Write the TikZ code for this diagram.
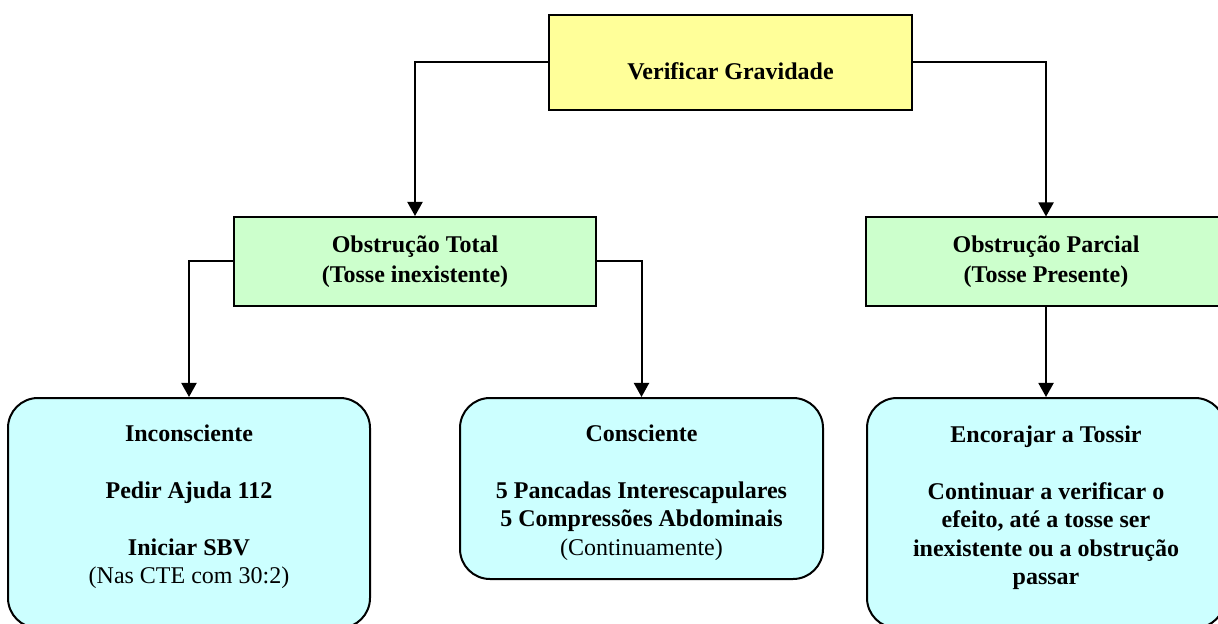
\documentclass[tikz,border=0pt]{standalone}
\usepackage{fontspec}
\setmainfont{Liberation Serif}
\usetikzlibrary{positioning,arrows.meta}
\definecolor{gravfill}{HTML}{FFFF99}
\definecolor{obstfill}{HTML}{CCFFCC}
\definecolor{acaofill}{HTML}{CCFFFF}

\begin{document}
\begin{tikzpicture}[x=0.5pt, y=-0.5pt,
  caixa/.style={draw, line width=1pt, inner sep=0pt},
  topo/.style={caixa, fill=gravfill, minimum width=181.5pt, minimum height=47.5pt},
  obst/.style={caixa, fill=obstfill, minimum width=181pt, minimum height=44.5pt,
    align=center, font=\fontsize{12}{15}\selectfont\bfseries},
  acao/.style={caixa, fill=acaofill, rounded corners=15pt},
  lbl/.style={inner sep=0pt, align=center, font=\fontsize{12}{14.25}\selectfont\bfseries},
  seta/.style={line width=1pt, -{Triangle[length=7pt, width=7.5pt]}}]
\useasboundingbox (0,0) rectangle (1218,624);
\clip (0,0) rectangle (1218,624);

\node[topo] (gravid) at (730.5,62.5){};
\node[lbl] (gravid-txt) at (730.5,71){Verificar Gravidade};

\node[obst] (total) at (415,261.5){Obstrução Total\\(Tosse inexistente)};
\node[obst, minimum width=180pt] (parcial) at (1046,262){Obstrução Parcial\\(Tosse Presente)};

\node[acao, minimum width=181pt, minimum height=115pt] (incons) at (189,513){};
\node[acao, minimum width=181.5pt, minimum height=90.5pt] (consc) at (641.5,488.5){};
\node[acao, minimum width=179pt, minimum height=115pt] (encoraj) at (1046,513){};

\node[lbl, below=13.5pt of incons.north] (incons-txt){Inconsciente\\[14.25pt]Pedir Ajuda 112\\[14.25pt]Iniciar SBV\\\mdseries(Nas CTE com 30:2)};
\node[lbl, below=13.5pt of consc.north] (consc-txt){Consciente\\[14.25pt]5 Pancadas Interescapulares\\5 Compressões Abdominais\\\mdseries(Continuamente)};
\node[lbl, below=14pt of encoraj.north] (encoraj-txt){Encorajar a Tossir\\[14.25pt]Continuar a verificar o\\efeito, até a tosse ser\\inexistente ou a obstrução\\passar};

\draw[seta](gravid.west) -| (total.north);
\draw[seta](gravid.east) -| (parcial.north);
\draw[seta](total.west) -| (incons.north);
\draw[seta](total.east) -| (consc.north);
\draw[seta](parcial.south) -- (encoraj.north);

\end{tikzpicture}
\end{document}
